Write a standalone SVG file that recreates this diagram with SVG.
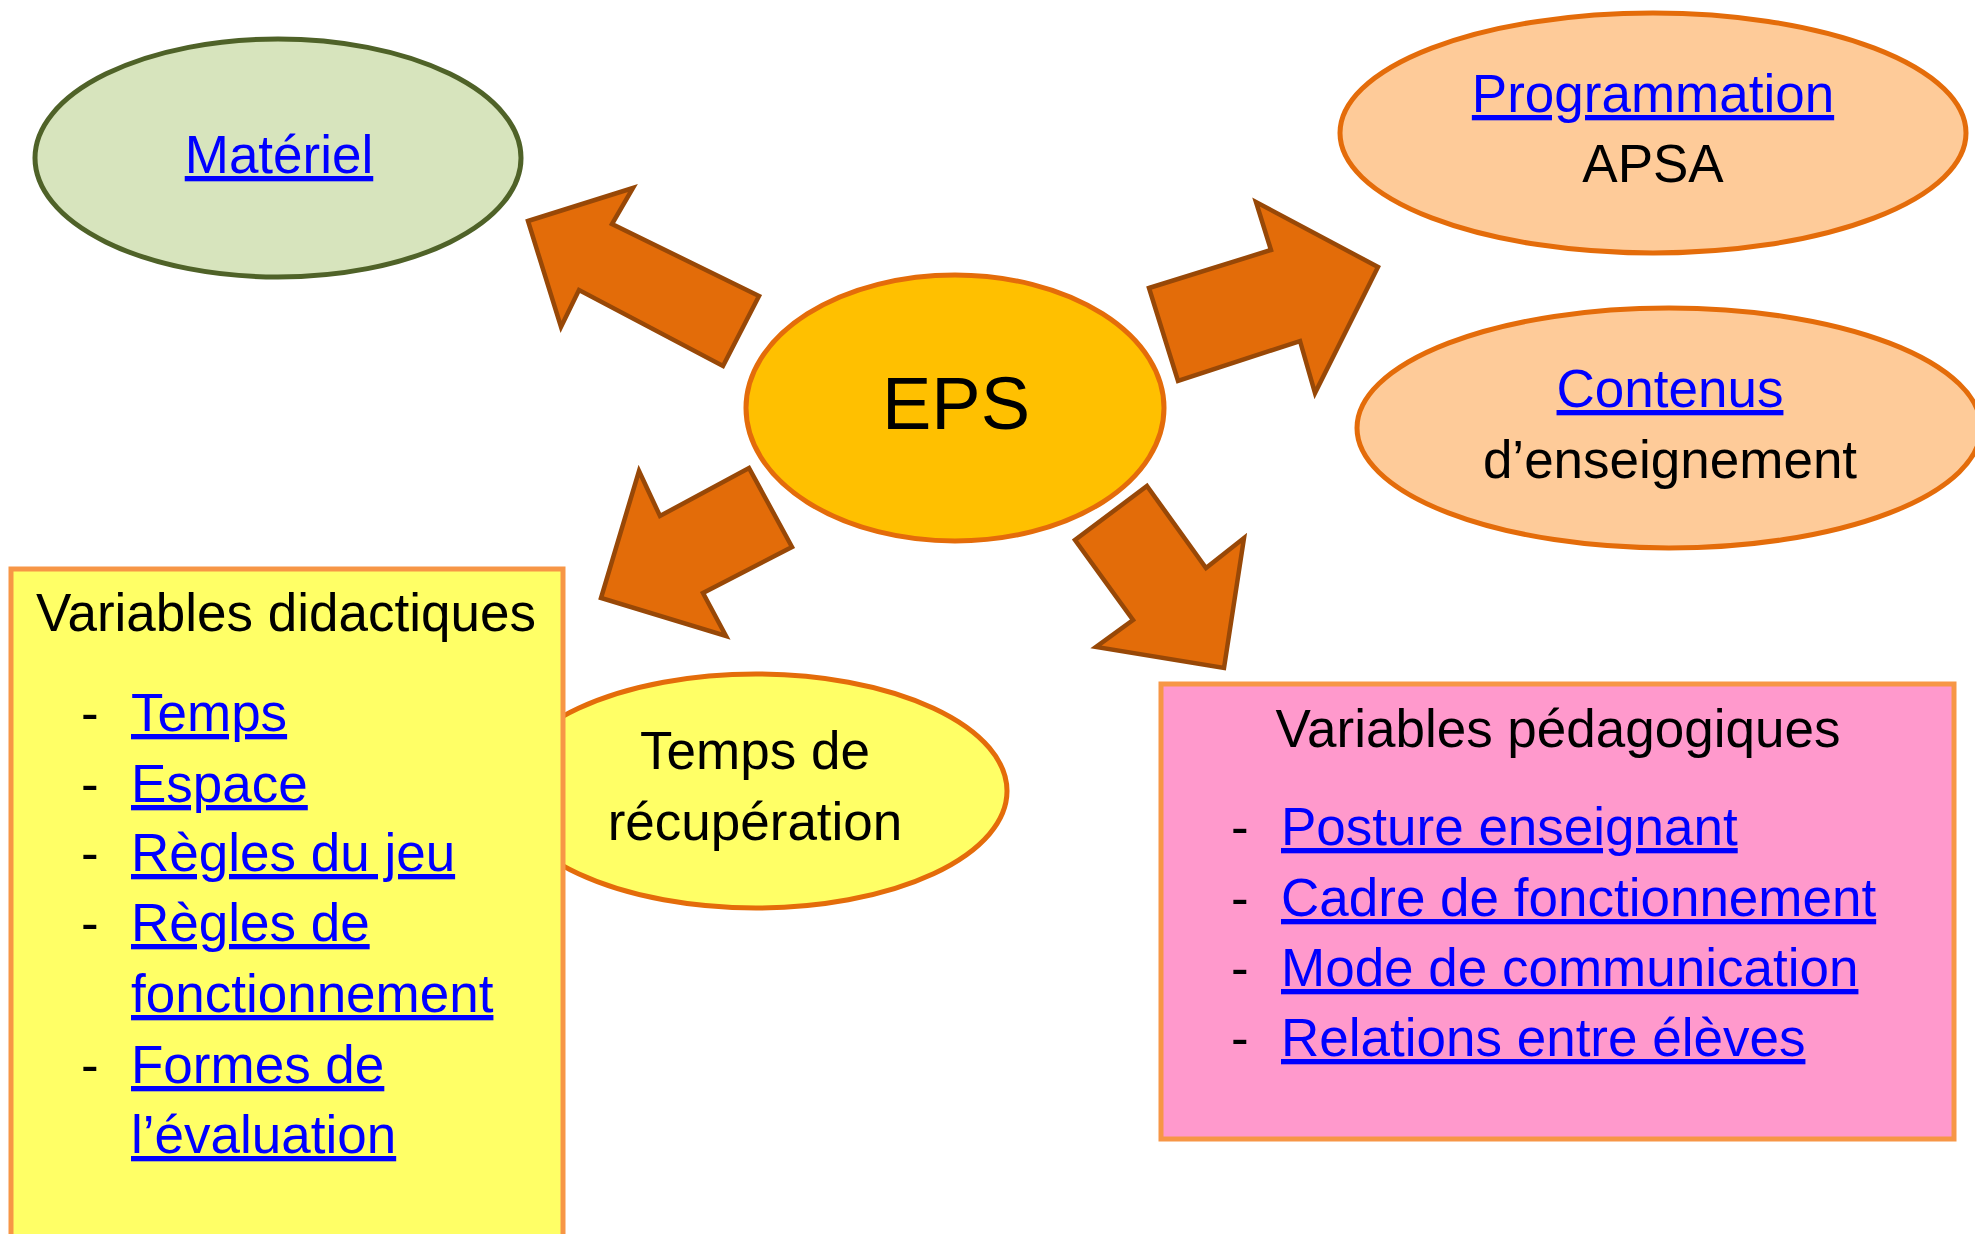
<svg xmlns="http://www.w3.org/2000/svg" width="1975" height="1234" viewBox="0 0 1975 1234">
<style>
text{font-family:"Liberation Sans",Arial,sans-serif;font-size:53px;fill:#000}
.link{fill:#0000ff;text-decoration:underline}
.mid{text-anchor:middle}
.arrow{fill:#e36c09;stroke:#984807;stroke-width:4.5;stroke-linejoin:miter}
.peach{fill:#fecb99;stroke:#e46c0a;stroke-width:5}
.box{stroke:#f79646;stroke-width:5}
</style>
<rect width="1975" height="1234" fill="#fff"/>
<g id="materiel">
<ellipse cx="278" cy="158" rx="243" ry="119" fill="#d7e4bd" stroke="#4f6228" stroke-width="5"/>
<text x="279" y="173" class="link mid">Matériel</text>
</g>
<g id="programmation">
<ellipse cx="1653" cy="133" rx="313" ry="120" class="peach"/>
<text x="1653" y="112" class="link mid">Programmation</text>
<text x="1653" y="182" class="mid">APSA</text>
</g>
<g id="contenus">
<ellipse cx="1669" cy="428" rx="312" ry="120" class="peach"/>
<text x="1670" y="407" class="link mid">Contenus</text>
<text x="1670" y="478" class="mid">d’enseignement</text>
</g>
<g id="recuperation">
<ellipse cx="756" cy="791" rx="251" ry="117" fill="#ffff66" stroke="#e46c0a" stroke-width="5"/>
<text x="755" y="769" class="mid">Temps de</text>
<text x="755" y="840" class="mid">récupération</text>
</g>
<g id="eps">
<ellipse cx="955" cy="408" rx="209" ry="133" fill="#ffc000" stroke="#e46c0a" stroke-width="5"/>
<text x="956" y="429" class="mid" style="font-size:74px">EPS</text>
</g>
<g id="variables-didactiques">
<rect x="11" y="569" width="552" height="700" fill="#ffff66" class="box"/>
<text x="36" y="631">Variables didactiques</text>
<text x="81" y="731">-</text><text x="131" y="731" class="link">Temps</text>
<text x="81" y="802">-</text><text x="131" y="802" class="link">Espace</text>
<text x="81" y="871">-</text><text x="131" y="871" class="link">Règles du jeu</text>
<text x="81" y="941">-</text><text x="131" y="941" class="link">Règles de</text>
<text x="131" y="1012" class="link">fonctionnement</text>
<text x="81" y="1083">-</text><text x="131" y="1083" class="link">Formes de</text>
<text x="131" y="1153" class="link">l’évaluation</text>
</g>
<g id="variables-pedagogiques">
<rect x="1161" y="684" width="793" height="455" fill="#ff99cc" class="box"/>
<text x="1558" y="747" class="mid">Variables pédagogiques</text>
<text x="1231" y="845">-</text><text x="1281" y="845" class="link">Posture enseignant</text>
<text x="1231" y="916">-</text><text x="1281" y="916" class="link">Cadre de fonctionnement</text>
<text x="1231" y="986">-</text><text x="1281" y="986" class="link">Mode de communication</text>
<text x="1231" y="1056">-</text><text x="1281" y="1056" class="link">Relations entre élèves</text>
</g>
<g id="connectors">
<polygon class="arrow" points="528,221 633,188 612,224 759,296 723,366 579,290 561,327"/>
<polygon class="arrow" points="1149,288 1271,250 1256,202 1378,267 1315,393 1300,341 1178,381"/>
<polygon class="arrow" points="639,471 660,516 749,468 792,547 703,593 726,636 601,598"/>
<polygon class="arrow" points="1147,486 1206,568 1244,538 1224,668 1096,647 1133,620 1075,540"/>
</g>
</svg>
